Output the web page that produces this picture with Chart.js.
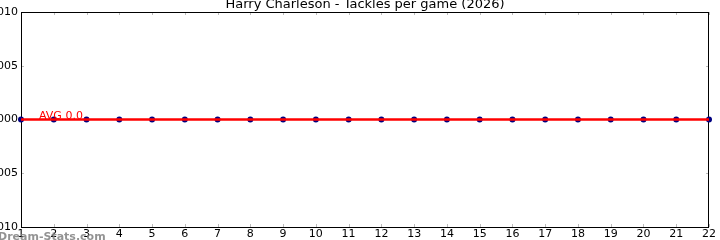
<!DOCTYPE html>
<html>
<head>
<meta charset="utf-8">
<script src="https://cdn.jsdelivr.net/npm/chart.js@4.4.1/dist/chart.umd.min.js"></script>
<style>
  html, body { margin: 0; padding: 0; background: #fff; }
  #wrap { width: 720px; height: 240px; position: relative; }
</style>
</head>
<body>
<div id="wrap"><canvas id="tackles-chart" width="720" height="240"></canvas></div>
<script>
const games = [1, 2, 3, 4, 5, 6, 7, 8, 9, 10, 11, 12, 13, 14, 15, 16, 17, 18, 19, 20, 21, 22];
const tackles = [0, 0, 0, 0, 0, 0, 0, 0, 0, 0, 0, 0, 0, 0, 0, 0, 0, 0, 0, 0, 0, 0];
const avgTackles = 0.0;
const yTicks = [-0.001, -0.0005, 0, 0.0005, 0.001];
const chartTitle = 'Harry Charleson - Tackles per game (2026)';

const FONT = '"DejaVu Sans", sans-serif';

// title, frame, inner ticks, avg label and watermark
const overlay = {
    id: 'overlay',
    beforeDatasetsDraw(chart) {
        const { ctx, chartArea: a, scales } = chart;
        ctx.save();
        ctx.strokeStyle = '#bbb';
        ctx.lineWidth = 1;
        games.forEach(g => {
            const x = Math.round(scales.x.getPixelForValue(g)) + 0.5;
            ctx.beginPath();
            ctx.moveTo(x, a.top); ctx.lineTo(x, a.top + 3);
            ctx.moveTo(x, a.bottom); ctx.lineTo(x, a.bottom - 3);
            ctx.stroke();
        });
        yTicks.forEach(v => {
            const y = Math.round(scales.y.getPixelForValue(v)) + 0.5;
            ctx.beginPath();
            ctx.moveTo(a.left, y); ctx.lineTo(a.left + 3, y);
            ctx.moveTo(a.right, y); ctx.lineTo(a.right - 3, y);
            ctx.stroke();
        });
        ctx.strokeStyle = '#000';
        ctx.strokeRect(a.left + 0.5, a.top + 0.5, a.right - a.left - 1, a.bottom - a.top);
        ctx.restore();
    },
    afterDraw(chart) {
        const { ctx, chartArea: a, scales } = chart;
        ctx.save();
        ctx.fillStyle = '#000';
        ctx.font = '13px ' + FONT;
        ctx.textAlign = 'center';
        ctx.textBaseline = 'alphabetic';
        ctx.fillText(chartTitle, (a.left + a.right) / 2, 8);

        ctx.fillStyle = 'red';
        ctx.font = '11px ' + FONT;
        ctx.textAlign = 'left';
        ctx.fillText('AVG ' + avgTackles.toFixed(1), scales.x.getPixelForValue(1.55), scales.y.getPixelForValue(avgTackles) - 1);

        ctx.fillStyle = 'rgba(128,128,128,0.85)';
        ctx.font = 'bold 11px ' + FONT;
        ctx.fillText('Dream-Stats.com', -2, 240);
        ctx.restore();
    }
};

new Chart(document.getElementById('tackles-chart'), {
    type: 'line',
    data: {
        datasets: [{
            label: 'Avg',
            data: games.map(g => ({ x: g, y: avgTackles })),
            borderColor: '#ff0000',
            borderWidth: 2.5,
            pointRadius: 0,
            order: 0
        }, {
            label: 'Tackles',
            data: games.map((g, i) => ({ x: g, y: tackles[i] })),
            borderColor: '#000080',
            backgroundColor: '#000080',
            borderWidth: 1,
            pointRadius: 3,
            pointBorderWidth: 0,
            order: 1
        }]
    },
    plugins: [overlay],
    options: {
        responsive: false,
        animation: false,
        clip: false,
        layout: { padding: { top: 12, right: 11, left: 0, bottom: 0 } },
        plugins: {
            legend: { display: false },
            tooltip: { enabled: false },
            title: { display: false }
        },
        scales: {
            x: {
                type: 'linear',
                min: 1,
                max: 22,
                afterFit(scale) { scale.height = 13; },
                grid: { display: false, drawTicks: false },
                border: { display: false },
                ticks: {
                    stepSize: 1,
                    padding: 1,
                    color: '#000',
                    maxRotation: 0,
                    autoSkip: false,
                    font: { family: FONT, size: 11 }
                }
            },
            y: {
                min: -0.001,
                max: 0.001,
                afterFit(scale) { scale.width = 21; },
                afterBuildTicks(scale) { scale.ticks = yTicks.map(v => ({ value: v })); },
                grid: { display: false, drawTicks: false },
                border: { display: false },
                ticks: {
                    padding: 3,
                    color: '#000',
                    font: { family: FONT, size: 11 },
                    callback: v => Number(v).toFixed(4)
                }
            }
        }
    }
});
</script>
</body>
</html>
